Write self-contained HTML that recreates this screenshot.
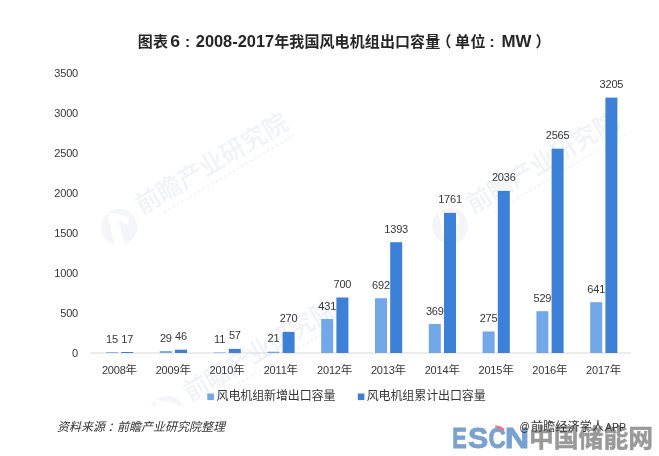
<!DOCTYPE html>
<html lang="zh"><head><meta charset="utf-8"><title>图表6</title>
<style>
html,body{margin:0;padding:0;background:#fff;}
body{width:659px;height:456px;overflow:hidden;}
svg{display:block;}
text{font-family:"Liberation Sans","Noto Sans CJK SC",sans-serif;}
.jp{font-family:"Noto Sans CJK JP","Noto Sans CJK SC",sans-serif;}
.wm{font-family:"Noto Sans CJK SC","Liberation Sans",sans-serif;font-weight:500;fill:#eff2f7;}
.t{font-size:15px;font-weight:700;fill:#262626;}
.n{font-size:11px;fill:#363636;letter-spacing:-0.2px;}
</style></head><body>
<svg width="659" height="456" viewBox="0 0 659 456">
<rect width="659" height="456" fill="#ffffff"/>
<clipPath id="wc"><rect x="0" y="0" width="659" height="406"/></clipPath>
<g clip-path="url(#wc)">
<g transform="translate(119,227)">
<circle cx="0" cy="0" r="18" fill="#f3f5f9"/>
<path d="M-12,-15 L10,-10 L9,-2 L-1,-6 L6,17 L-4,19 L-10,-5 Z" fill="#ffffff"/>
<g transform="rotate(-30.5)">
<text class="wm" x="26" y="1" font-size="25" textLength="172" lengthAdjust="spacingAndGlyphs">前瞻产业研究院</text>
<line x1="46" y1="10" x2="198" y2="10" stroke="#f4f6fa" stroke-width="2.2" stroke-dasharray="3 2"/>
</g></g>
<g transform="translate(450,226)">
<circle cx="0" cy="0" r="18" fill="#f3f5f9"/>
<path d="M-12,-15 L10,-10 L9,-2 L-1,-6 L6,17 L-4,19 L-10,-5 Z" fill="#ffffff"/>
<g transform="rotate(-30.5)">
<text class="wm" x="26" y="1" font-size="25" textLength="172" lengthAdjust="spacingAndGlyphs">前瞻产业研究院</text>
<line x1="46" y1="10" x2="198" y2="10" stroke="#f4f6fa" stroke-width="2.2" stroke-dasharray="3 2"/>
</g></g>
<g transform="translate(167,414)">
<circle cx="0" cy="0" r="18" fill="#f3f5f9"/>
<path d="M-12,-15 L10,-10 L9,-2 L-1,-6 L6,17 L-4,19 L-10,-5 Z" fill="#ffffff"/>
<g transform="rotate(-30.5)">
<text class="wm" x="26" y="1" font-size="25" textLength="172" lengthAdjust="spacingAndGlyphs">前瞻产业研究院</text>
<line x1="46" y1="10" x2="198" y2="10" stroke="#f4f6fa" stroke-width="2.2" stroke-dasharray="3 2"/>
</g></g>
</g>
<g class="t">
<text x="137.7" y="46.7" textLength="30.4">图表</text>
<text x="170.3" y="47.3" font-size="16" textLength="9.8" lengthAdjust="spacingAndGlyphs">6</text>
<text x="183.9" y="47.3" font-size="11" textLength="14.3" lengthAdjust="spacingAndGlyphs">：</text>
<text x="195.8" y="47.3" font-size="16" textLength="78.3" lengthAdjust="spacingAndGlyphs">2008-2017</text>
<text x="274.2" y="46.7" textLength="166" >年我国风电机组出口容量</text>
<text x="436.5" y="46.7">（</text>
<text x="455" y="46.7" textLength="30.4">单位</text>
<text x="488.5" y="47.3" font-size="11" textLength="14.3" lengthAdjust="spacingAndGlyphs">：</text>
<text x="501.5" y="47.3" font-size="16" textLength="30" lengthAdjust="spacingAndGlyphs">MW</text>
<text x="535.5" y="46.7">）</text>
</g>
<g class="n" text-anchor="end">
<text x="78" y="357.0">0</text>
<text x="78" y="317.0">500</text>
<text x="78" y="277.0">1000</text>
<text x="78" y="237.0">1500</text>
<text x="78" y="197.0">2000</text>
<text x="78" y="157.0">2500</text>
<text x="78" y="117.0">3000</text>
<text x="78" y="77.0">3500</text>
</g>
<rect x="90.5" y="352.5" width="540.5" height="1" fill="#dadada"/>
<rect x="106.0" y="352.2" width="12" height="0.8" fill="#72a7ea"/><rect x="121.2" y="352.0" width="12" height="1.0" fill="#3c80d8"/>
<rect x="159.8" y="351.1" width="12" height="1.9" fill="#72a7ea"/><rect x="175.0" y="349.7" width="12" height="3.3" fill="#3c80d8"/>
<rect x="213.6" y="352.5" width="12" height="0.5" fill="#72a7ea"/><rect x="228.8" y="348.9" width="12" height="4.1" fill="#3c80d8"/>
<rect x="267.4" y="351.7" width="12" height="1.3" fill="#72a7ea"/><rect x="282.6" y="331.9" width="12" height="21.1" fill="#3c80d8"/>
<rect x="321.2" y="319.0" width="12" height="34.0" fill="#72a7ea"/><rect x="336.4" y="297.5" width="12" height="55.5" fill="#3c80d8"/>
<rect x="375.0" y="298.2" width="12" height="54.8" fill="#72a7ea"/><rect x="390.2" y="242.2" width="12" height="110.8" fill="#3c80d8"/>
<rect x="428.8" y="324.0" width="12" height="29.0" fill="#72a7ea"/><rect x="444.0" y="212.9" width="12" height="140.1" fill="#3c80d8"/>
<rect x="482.6" y="331.5" width="12" height="21.5" fill="#72a7ea"/><rect x="497.8" y="190.9" width="12" height="162.1" fill="#3c80d8"/>
<rect x="536.4" y="311.2" width="12" height="41.8" fill="#72a7ea"/><rect x="551.6" y="148.7" width="12" height="204.3" fill="#3c80d8"/>
<rect x="590.2" y="302.2" width="12" height="50.8" fill="#72a7ea"/><rect x="605.4" y="97.6" width="12" height="255.4" fill="#3c80d8"/>
<g class="n" text-anchor="middle">
<text x="112.0" y="342.8">15</text><text x="127.2" y="342.6">17</text>
<text x="165.8" y="341.7">29</text><text x="181.0" y="340.3">46</text>
<text x="219.6" y="343.1">11</text><text x="234.8" y="339.4">57</text>
<text x="273.4" y="342.3">21</text><text x="288.6" y="322.4">270</text>
<text x="327.2" y="309.5">431</text><text x="342.4" y="288.0">700</text>
<text x="381.0" y="288.6">692</text><text x="396.2" y="232.6">1393</text>
<text x="434.8" y="314.5">369</text><text x="450.0" y="203.1">1761</text>
<text x="488.6" y="322.0">275</text><text x="503.8" y="181.1">2036</text>
<text x="542.4" y="301.7">529</text><text x="557.6" y="138.8">2565</text>
<text x="596.2" y="292.7">641</text><text x="611.4" y="87.6">3205</text>
</g>
<g class="n" text-anchor="middle">
<text x="119.4" y="374">2008<tspan font-size="11.5">年</tspan></text>
<text x="173.2" y="374">2009<tspan font-size="11.5">年</tspan></text>
<text x="227.0" y="374">2010<tspan font-size="11.5">年</tspan></text>
<text x="280.8" y="374">2011<tspan font-size="11.5">年</tspan></text>
<text x="334.6" y="374">2012<tspan font-size="11.5">年</tspan></text>
<text x="388.4" y="374">2013<tspan font-size="11.5">年</tspan></text>
<text x="442.2" y="374">2014<tspan font-size="11.5">年</tspan></text>
<text x="496.0" y="374">2015<tspan font-size="11.5">年</tspan></text>
<text x="549.8" y="374">2016<tspan font-size="11.5">年</tspan></text>
<text x="603.6" y="374">2017<tspan font-size="11.5">年</tspan></text>
</g>
<rect x="207.3" y="393.5" width="6.6" height="6.6" fill="#72a7ea"/>
<text x="216.5" y="400.3" font-size="12" fill="#363636" textLength="119">风电机组新增出口容量</text>
<rect x="357.8" y="393.5" width="6.6" height="6.6" fill="#3c80d8"/>
<text x="366.7" y="400.3" font-size="12" fill="#363636" textLength="119">风电机组累计出口容量</text>
<text x="57" y="431" font-size="12" font-style="italic" fill="#333">资料来源<tspan dx="2.4">：</tspan><tspan dx="-2.4">前瞻产业研究院整理</tspan></text>
<g opacity="0.9" font-size="30.2" font-weight="700" fill="#6a96cb" stroke="#6a96cb" stroke-width="0.8" lengthAdjust="spacingAndGlyphs"><text x="452.2" y="447.8" textLength="14.6" lengthAdjust="spacingAndGlyphs">E</text><text x="468.0" y="447.8" textLength="20.3" lengthAdjust="spacingAndGlyphs">S</text><text x="488.4" y="447.8" textLength="17.3" lengthAdjust="spacingAndGlyphs">C</text><text x="504.7" y="447.8" textLength="24.5" lengthAdjust="spacingAndGlyphs">N</text></g>
<path d="M495.2 426.8 A10.2 10.2 0 0 1 503.8 430.4" fill="none" stroke="#ea7a86" stroke-width="2.6"/>
<text x="529" y="446.5" opacity="0.9" font-size="25" font-weight="700" fill="#8e8e8e" stroke="#8e8e8e" stroke-width="0.5" textLength="124" lengthAdjust="spacingAndGlyphs" style="font-family:'Noto Sans CJK SC',sans-serif">中国储能网</text>
<g font-size="12" fill="#333"><text x="519.5" y="430.5" textLength="10.2" lengthAdjust="spacingAndGlyphs">@</text><text x="531" y="430.5" textLength="73">前瞻经济学人</text><text x="605" y="430.5" font-size="11" textLength="21" lengthAdjust="spacingAndGlyphs">APP</text></g>
</svg>
</body></html>
